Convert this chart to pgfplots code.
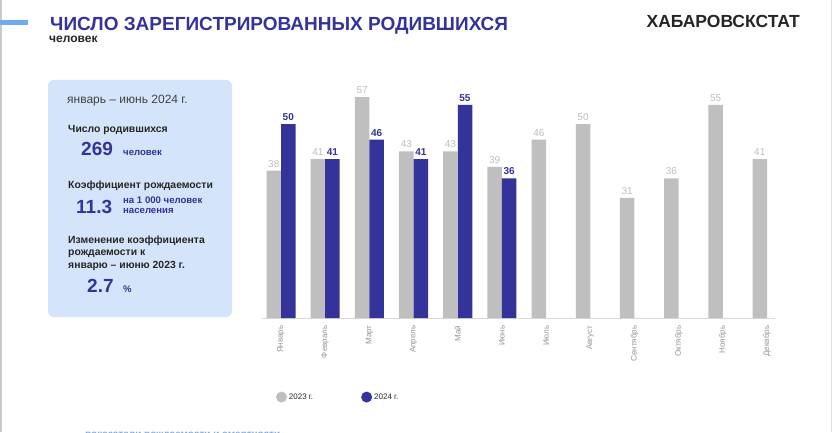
\documentclass[border=0pt]{standalone}
\usepackage{pgfplots}
\pgfplotsset{compat=1.18}
\usepackage{fontspec}
\setmainfont{Liberation Sans}
\definecolor{ttl}{RGB}{51,51,153}
\definecolor{barblue}{RGB}{51,51,153}
\definecolor{bargray}{RGB}{191,191,191}
\definecolor{boxfill}{RGB}{212,229,251}
\definecolor{accent}{RGB}{112,170,240}
\definecolor{darktxt}{RGB}{38,38,38}
\definecolor{ticktxt}{RGB}{150,150,150}
\definecolor{foot}{RGB}{120,170,230}
\begin{document}
\begin{tikzpicture}[x=1pt,y=1pt]
\useasboundingbox (0,0) rectangle (832,432);
\fill[white] (0,0) rectangle (832,432);
\draw[line width=1.5pt, color={rgb,255:red,200;green,200;blue,200}] (0.75,0) -- (0.75,432);
\draw[line width=1pt, color={rgb,255:red,225;green,225;blue,225}] (831.5,0) -- (831.5,432);
\draw[line width=5pt, accent] (0,409) -- (28,409);
% titles
\node[anchor=base west, inner sep=0, text=ttl, font=\fontsize{19}{22}\selectfont\bfseries] at (50,401) {ЧИСЛО ЗАРЕГИСТРИРОВАННЫХ РОДИВШИХСЯ};
\node[anchor=base west, inner sep=0, text=darktxt, font=\fontsize{12}{14}\selectfont\bfseries] at (49,389) {человек};
\node[anchor=base east, inner sep=0, text=darktxt, font=\fontsize{17.5}{20}\selectfont\bfseries] at (800,404) {ХАБАРОВСКСТАТ};
% info box
\fill[boxfill, rounded corners=6pt] (48,115) rectangle (232,352);
\node[anchor=base west, inner sep=0, text={rgb,255:red,64;green,64;blue,64}, font=\fontsize{12}{14}\selectfont] at (67,329) {январь – июнь 2024 г.};
\node[anchor=base west, inner sep=0, text=darktxt, font=\fontsize{10.4}{12}\selectfont\bfseries] at (68,300) {Число родившихся};
\node[anchor=base west, inner sep=0, text=ttl, font=\fontsize{19}{22}\selectfont\bfseries] at (81,277) {269};
\node[anchor=base west, inner sep=0, text=ttl, font=\fontsize{9.6}{11}\selectfont\bfseries] at (123,277) {человек};
\node[anchor=base west, inner sep=0, text=darktxt, font=\fontsize{10.4}{12}\selectfont\bfseries] at (68,244) {Коэффициент рождаемости};
\node[anchor=base west, inner sep=0, text=ttl, font=\fontsize{19}{22}\selectfont\bfseries] at (76,219) {11.3};
\node[anchor=base west, inner sep=0, text=ttl, font=\fontsize{9.6}{11}\selectfont\bfseries] at (123,229) {на 1 000 человек};
\node[anchor=base west, inner sep=0, text=ttl, font=\fontsize{9.6}{11}\selectfont\bfseries] at (123,219) {населения};
\node[anchor=base west, inner sep=0, text=darktxt, font=\fontsize{10.4}{12}\selectfont\bfseries] at (68,189) {Изменение коэффициента};
\node[anchor=base west, inner sep=0, text=darktxt, font=\fontsize{10.4}{12}\selectfont\bfseries] at (68,177) {рождаемости к};
\node[anchor=base west, inner sep=0, text=darktxt, font=\fontsize{10.4}{12}\selectfont\bfseries] at (68,164) {январю – июню 2023 г.};
\node[anchor=base west, inner sep=0, text=ttl, font=\fontsize{19}{22}\selectfont\bfseries] at (87,140) {2.7};
\node[anchor=base west, inner sep=0, text=ttl, font=\fontsize{9.6}{11}\selectfont\bfseries] at (123,140) {\%};
% footer
\node[anchor=base west, inner sep=0, text=foot, font=\fontsize{10}{12}\selectfont\bfseries] at (85,-5) {показатели рождаемости и смертности};
\begin{axis}[
  at={(262pt,114pt)}, anchor=south west,
  scale only axis, width=513pt, height=232.6pt,
  xmin=-0.43, xmax=11.18, ymin=0, ymax=60,
  ybar=0pt, bar width=14.5pt,
  axis x line=bottom, axis line style={draw={rgb,255:red,217;green,217;blue,217}, line width=0.8pt, -},
  hide y axis,
  xtick={0,...,11},
  xticklabels={Январь,Февраль,Март,Апрель,Май,Июнь,Июль,Август,Сентябрь,Октябрь,Ноябрь,Декабрь},
  x tick label style={rotate=90, anchor=east, font=\fontsize{8}{9}\selectfont, text=ticktxt},
  xticklabel shift=4pt,
  major tick length=0pt,
  /pgf/number format/assume math mode=true,
  nodes near coords,
  legend style={at={(0.021,-0.34)}, anchor=west, draw=none, fill=none, legend columns=2,
    font=\fontsize{8}{9}\selectfont, text=darktxt,
    /tikz/every even column/.append style={column sep=46pt}},
  legend image code/.code={\fill[#1] (0pt,0pt) circle (5.5pt);},
]
\addplot[fill=bargray, draw=none,
  nodes near coords style={text=bargray, font=\fontsize{10}{12}\selectfont}]
  coordinates {(0,38) (1,41) (2,57) (3,43) (4,43) (5,39) (6,46) (7,50) (8,31) (9,36) (10,55) (11,41)};
\addplot[fill=barblue, draw=none,
  nodes near coords style={text=barblue, font=\fontsize{10}{12}\selectfont\bfseries}]
  coordinates {(0,50) (1,41) (2,46) (3,41) (4,55) (5,36)};
\legend{2023 г., 2024 г.}
\end{axis}
\end{tikzpicture}
\end{document}
